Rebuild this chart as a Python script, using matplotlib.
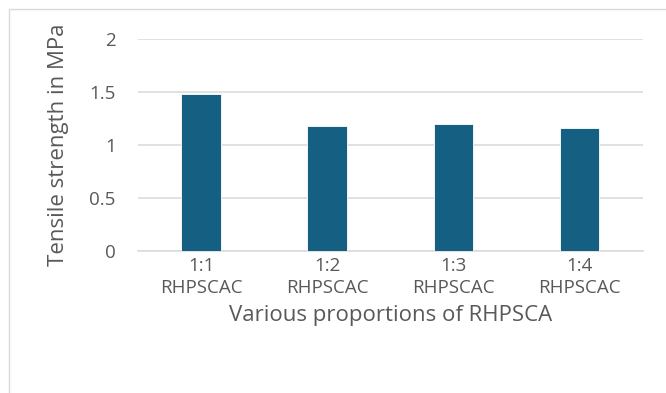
import matplotlib
matplotlib.use("Agg")
import matplotlib.pyplot as plt
from matplotlib.patches import Rectangle

categories = ["1:1\nRHPSCAC", "1:2\nRHPSCAC", "1:3\nRHPSCAC", "1:4\nRHPSCAC"]
tensile_strength = [1.48, 1.18, 1.20, 1.16]
y_ticks = [0, 0.5, 1, 1.5, 2]
y_tick_labels = ["0", "0.5", "1", "1.5", "2"]

W, H = 666, 393
fig = plt.figure(figsize=(W / 100, H / 100), dpi=100)
plt.rcParams["font.family"] = ["Open Sans", "DejaVu Sans"]

text_color = "#595959"
grid_color = "#d9d9d9"
bar_color = "#156082"

# chart frame (top and left edges visible)
fig.patches.append(Rectangle((9 / W, -0.2), 1.2, 1 - 9 / H + 0.2,
                             transform=fig.transFigure, fill=False,
                             edgecolor=grid_color, linewidth=1.0))

ax = fig.add_axes([138 / W, 1 - 251 / H, (642.7 - 138) / W, (251 - 38.6) / H])
x = range(len(categories))
ax.bar(x, tensile_strength, width=0.315, color=bar_color,
       edgecolor="#ffffff", linewidth=0.6, zorder=3)

ax.set_xlim(-0.5, len(categories) - 0.5)
ax.set_ylim(0, 2)
ax.set_yticks(y_ticks)
ax.set_yticklabels(y_tick_labels)
ax.set_xticks(list(x))
ax.set_xticklabels(categories, linespacing=1.3)

ax.yaxis.grid(True, color=grid_color, linewidth=1.1, zorder=0)
for side in ["top", "right", "left"]:
    ax.spines[side].set_visible(False)
ax.spines["bottom"].set_color(grid_color)
ax.spines["bottom"].set_linewidth(1.1)
ax.tick_params(axis="both", length=0, colors=text_color, labelsize=13.5)
ax.tick_params(axis="y", pad=16)
ax.tick_params(axis="x", pad=4)

ax.set_ylabel("Tensile strength in MPa", color=text_color, fontsize=16, labelpad=15)
ax.set_xlabel("Various proportions of RHPSCA", color=text_color, fontsize=16, labelpad=6)

fig.savefig("out.png", dpi=100)
